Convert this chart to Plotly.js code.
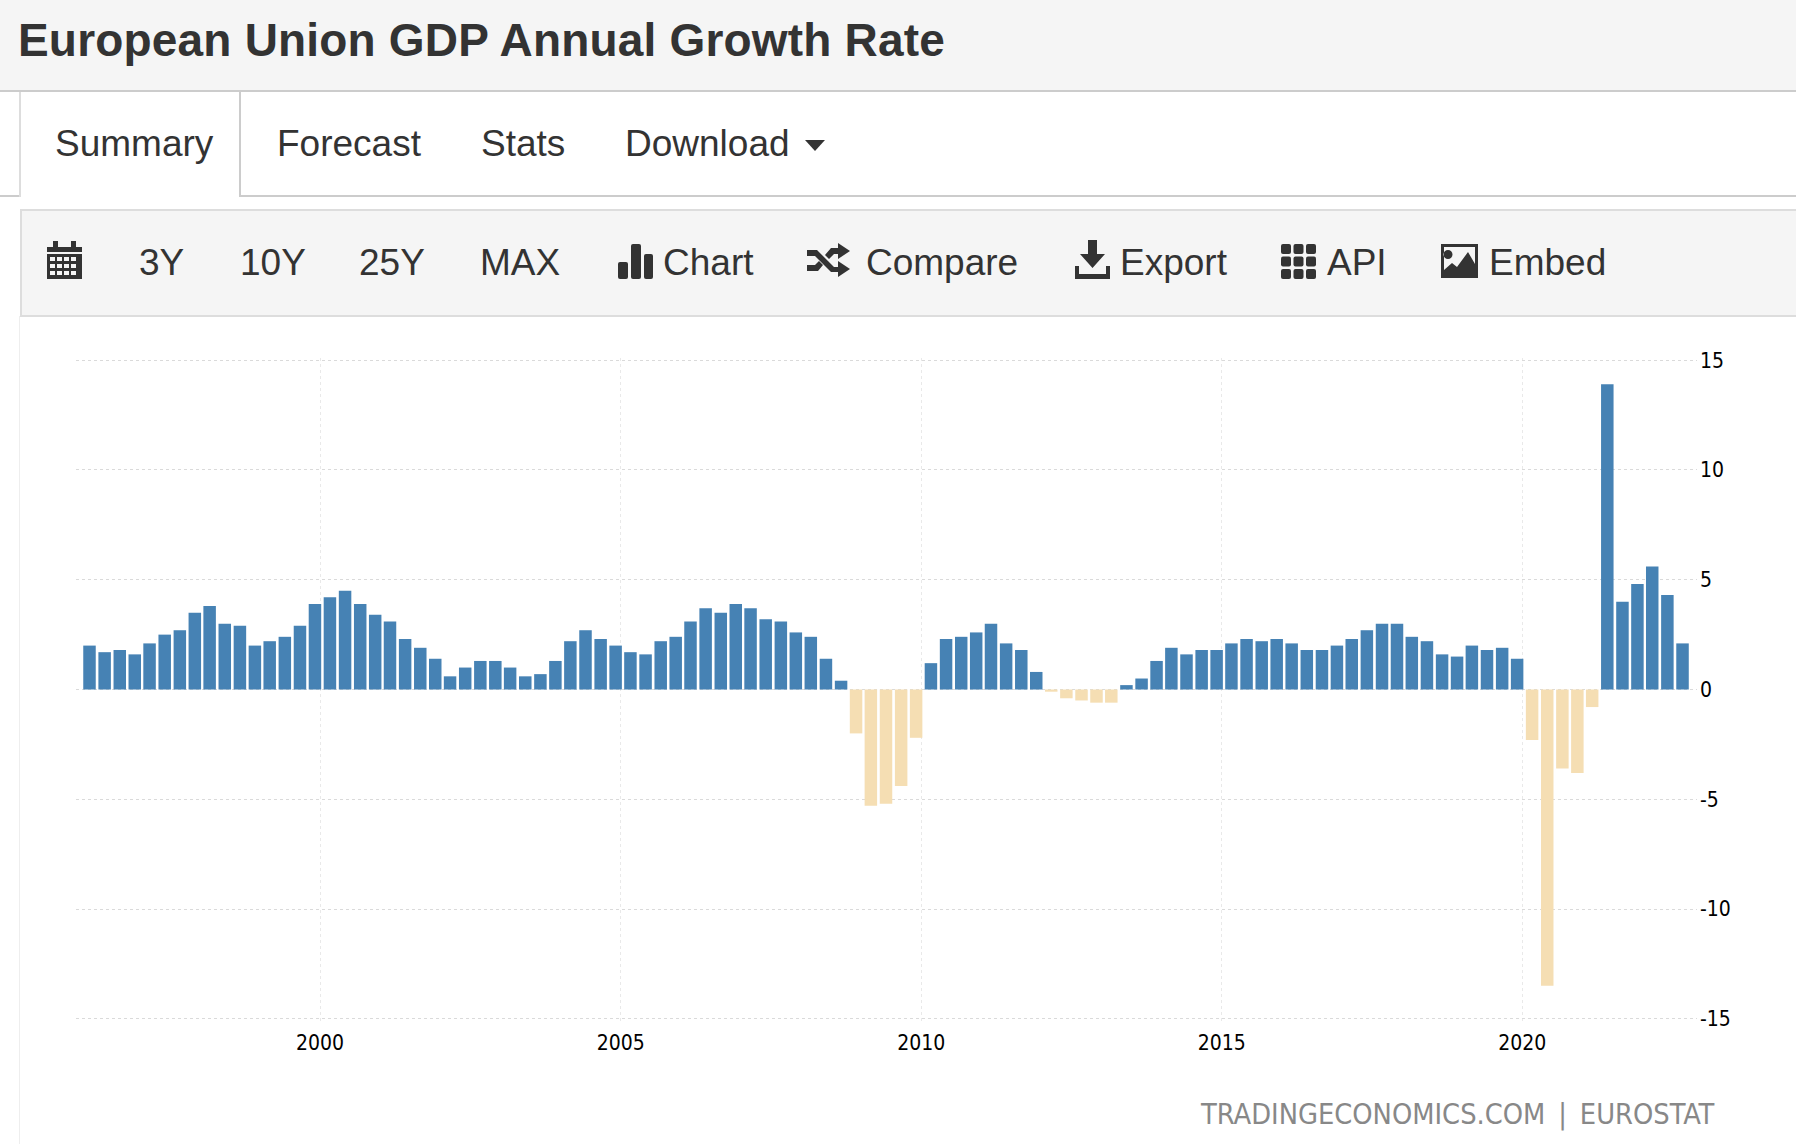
<!DOCTYPE html>
<html>
<head>
<meta charset="utf-8">
<title>European Union GDP Annual Growth Rate</title>
<script src="https://cdn.plot.ly/plotly-3.0.1.min.js"></script>
<style>
  html, body { margin: 0; padding: 0; background: #fff; }
  body { width: 1796px; height: 1144px; position: relative; overflow: hidden; font-family: "Liberation Sans", Arial, sans-serif; color: #333; }
  #header { position: absolute; left: 0; top: 0; width: 1796px; height: 90px; background: #f5f5f5; border-bottom: 2px solid #ccc; }
  #header span { position: absolute; left: 18px; top: 14px; font-size: 46px; line-height: 52px; font-weight: bold; letter-spacing: 0.19px; white-space: nowrap; }
  #tabline { position: absolute; left: 0; top: 195px; width: 1796px; height: 2px; background: #ccc; }
  #activetab { position: absolute; left: 19px; top: 92px; width: 218px; height: 105px; background: #fff; border-left: 2px solid #ddd; border-right: 2px solid #ccc; }
  #toolbar { position: absolute; left: 20px; top: 209px; width: 1776px; height: 104px; background: #f5f5f5; border: 2px solid #ddd; border-right: none; }
  #sideline { position: absolute; left: 19px; top: 316px; width: 1px; height: 828px; background: #eee; }
  .item { position: absolute; font-size: 37px; line-height: 44px; white-space: nowrap; }
  .nav { top: 122px; }
  .tool { top: 241px; }
  svg.icon { position: absolute; fill: #333; }
  #chart { position: absolute; left: 0; top: 320px; width: 1796px; height: 824px; }
</style>
</head>
<body>
<div id="header"><span>European Union GDP Annual Growth Rate</span></div>
<div id="tabline"></div>
<div id="activetab"></div>
<div class="item nav" style="left:55px">Summary</div>
<div class="item nav" style="left:277px">Forecast</div>
<div class="item nav" style="left:481px">Stats</div>
<div class="item nav" style="left:625px">Download</div>
<svg class="icon" style="left:805px;top:140px" width="20" height="11" viewBox="0 0 20 11"><path d="M0 0H20L10 11Z"/></svg>

<div id="toolbar"></div>
<div id="sideline"></div>
<svg class="icon" style="left:47px;top:240px" width="35" height="39" viewBox="0 0 35 39"><path d="M0 7H6V1H11V7H24V1H29V7H35V12H0ZM0 14H35V39H0ZM3 17V21H8V17ZM10 17V21H15V17ZM17 17V21H22V17ZM24 17V21H29V17ZM3 24V28H8V24ZM10 24V28H15V24ZM17 24V28H22V24ZM24 24V28H29V24ZM3 31V35H8V31ZM10 31V35H15V31ZM17 31V35H22V31ZM24 31V35H29V31Z" fill-rule="evenodd"/></svg>
<div class="item tool" style="left:139px">3Y</div>
<div class="item tool" style="left:240px">10Y</div>
<div class="item tool" style="left:359px">25Y</div>
<div class="item tool" style="left:480px">MAX</div>
<svg class="icon" style="left:618px;top:244px" width="35" height="35" viewBox="0 0 35 35"><rect x="0" y="18" width="10" height="17" rx="2"/><rect x="13" y="0" width="10" height="35" rx="2"/><rect x="26" y="10" width="9" height="25" rx="2"/></svg>
<div class="item tool" style="left:663px">Chart</div>
<svg class="icon" style="left:807px;top:243px" width="43" height="34" viewBox="0 0 43 34"><path d="M0 7H10L27 24H31V18L43 26L31 34V29H24L8 13H0ZM31 0L43 8L31 16V11H27L22 16L18 12L24 5H31ZM0 22H8L12 18L16 22L11 28H0Z"/></svg>
<div class="item tool" style="left:866px">Compare</div>
<svg class="icon" style="left:1075px;top:240px" width="35" height="39" viewBox="0 0 35 39"><path d="M13 0H22V14H30L17.5 28L5 14H13ZM0 26H4V34H31V26H35V39H0Z"/></svg>
<div class="item tool" style="left:1120px">Export</div>
<svg class="icon" style="left:1281px;top:244px" width="35" height="35" viewBox="0 0 35 35"><rect x="0" y="0" width="10" height="10" rx="2"/><rect x="12.5" y="0" width="10" height="10" rx="2"/><rect x="25" y="0" width="10" height="10" rx="2"/><rect x="0" y="12.5" width="10" height="10" rx="2"/><rect x="12.5" y="12.5" width="10" height="10" rx="2"/><rect x="25" y="12.5" width="10" height="10" rx="2"/><rect x="0" y="25" width="10" height="10" rx="2"/><rect x="12.5" y="25" width="10" height="10" rx="2"/><rect x="25" y="25" width="10" height="10" rx="2"/></svg>
<div class="item tool" style="left:1327px">API</div>
<svg class="icon" style="left:1441px;top:244px" width="37" height="34" viewBox="0 0 37 34"><path fill-rule="evenodd" d="M0 0H37V34H0ZM3 3V26L11 19L16 23L27 8L34 20V3ZM7 6A4.5 4.5 0 1 0 7 15A4.5 4.5 0 1 0 7 6Z"/></svg>
<div class="item tool" style="left:1489px">Embed</div>

<div id="chart"></div>

<script>
const QUARTERS = [
  "1996-03-01", "1996-06-01", "1996-09-01", "1996-12-01",
  "1997-03-01", "1997-06-01", "1997-09-01", "1997-12-01",
  "1998-03-01", "1998-06-01", "1998-09-01", "1998-12-01",
  "1999-03-01", "1999-06-01", "1999-09-01", "1999-12-01",
  "2000-03-01", "2000-06-01", "2000-09-01", "2000-12-01",
  "2001-03-01", "2001-06-01", "2001-09-01", "2001-12-01",
  "2002-03-01", "2002-06-01", "2002-09-01", "2002-12-01",
  "2003-03-01", "2003-06-01", "2003-09-01", "2003-12-01",
  "2004-03-01", "2004-06-01", "2004-09-01", "2004-12-01",
  "2005-03-01", "2005-06-01", "2005-09-01", "2005-12-01",
  "2006-03-01", "2006-06-01", "2006-09-01", "2006-12-01",
  "2007-03-01", "2007-06-01", "2007-09-01", "2007-12-01",
  "2008-03-01", "2008-06-01", "2008-09-01", "2008-12-01",
  "2009-03-01", "2009-06-01", "2009-09-01", "2009-12-01",
  "2010-03-01", "2010-06-01", "2010-09-01", "2010-12-01",
  "2011-03-01", "2011-06-01", "2011-09-01", "2011-12-01",
  "2012-03-01", "2012-06-01", "2012-09-01", "2012-12-01",
  "2013-03-01", "2013-06-01", "2013-09-01", "2013-12-01",
  "2014-03-01", "2014-06-01", "2014-09-01", "2014-12-01",
  "2015-03-01", "2015-06-01", "2015-09-01", "2015-12-01",
  "2016-03-01", "2016-06-01", "2016-09-01", "2016-12-01",
  "2017-03-01", "2017-06-01", "2017-09-01", "2017-12-01",
  "2018-03-01", "2018-06-01", "2018-09-01", "2018-12-01",
  "2019-03-01", "2019-06-01", "2019-09-01", "2019-12-01",
  "2020-03-01", "2020-06-01", "2020-09-01", "2020-12-01",
  "2021-03-01", "2021-06-01", "2021-09-01", "2021-12-01",
  "2022-03-01", "2022-06-01", "2022-09-01",
];

// Annual growth rate, one value per quarter
const GROWTH = [
  2.0, 1.7, 1.8, 1.6,
  2.1, 2.5, 2.7, 3.5,
  3.8, 3.0, 2.9, 2.0,
  2.2, 2.4, 2.9, 3.9,
  4.2, 4.5, 3.9, 3.4,
  3.1, 2.3, 1.9, 1.4,
  0.6, 1.0, 1.3, 1.3,
  1.0, 0.6, 0.7, 1.3,
  2.2, 2.7, 2.3, 2.0,
  1.7, 1.6, 2.2, 2.4,
  3.1, 3.7, 3.5, 3.9,
  3.7, 3.2, 3.1, 2.6,
  2.4, 1.4, 0.4, -2.0,
  -5.3, -5.2, -4.4, -2.2,
  1.2, 2.3, 2.4, 2.6,
  3.0, 2.1, 1.8, 0.8,
  -0.1, -0.4, -0.5, -0.6,
  -0.6, 0.2, 0.5, 1.3,
  1.9, 1.6, 1.8, 1.8,
  2.1, 2.3, 2.2, 2.3,
  2.1, 1.8, 1.8, 2.0,
  2.3, 2.7, 3.0, 3.0,
  2.4, 2.2, 1.6, 1.5,
  2.0, 1.8, 1.9, 1.4,
  -2.3, -13.5, -3.6, -3.8,
  -0.8, 13.9, 4.0, 4.8,
  5.6, 4.3, 2.1,
];

const Y_TICKS = [-15, -10, -5, 0, 5, 10, 15];

const POSITIVE_COLOR = "#4682b4";
const NEGATIVE_COLOR = "#f5deb3";
const TICK_FONT = { family: '"DejaVu Sans Condensed", "DejaVu Sans", sans-serif', size: 21, color: "#000" };

Plotly.newPlot(
  "chart",
  [
    {
      type: "bar",
      x: QUARTERS,
      y: GROWTH,
      width: 6.56e9, // ms, about 76 days
      marker: {
        color: GROWTH.map((v) => (v < 0 ? NEGATIVE_COLOR : POSITIVE_COLOR)),
        line: { width: 0 },
      },
      hovertemplate: "%{x|%b %Y}: %{y}%<extra></extra>",
    },
  ],
  {
    width: 1796,
    height: 824,
    margin: { l: 76, r: 99, t: 38, b: 123.4 },
    paper_bgcolor: "rgba(0,0,0,0)",
    plot_bgcolor: "rgba(0,0,0,0)",
    showlegend: false,
    xaxis: {
      type: "date",
      range: ["1995-12-10", "2022-11-28"],
      tick0: "2000-01-01",
      dtick: "M60",
      tickformat: "%Y",
      ticks: "",
      ticklabelstandoff: 7,
      showline: false,
      zeroline: false,
      gridcolor: "#e9e9e9",
      griddash: "dot",
      gridwidth: 1,
      tickfont: TICK_FONT,
      fixedrange: true,
    },
    yaxis: {
      side: "right",
      // a touch past +-15 so plotly keeps the gridlines at both ends
      range: [-15.1, 15.1],
      tickmode: "array",
      tickvals: Y_TICKS,
      ticktext: Y_TICKS.map(String),
      ticks: "",
      ticklabelstandoff: 2,
      showline: false,
      zeroline: false,
      gridcolor: "#dadada",
      griddash: "dot",
      gridwidth: 1,
      tickfont: TICK_FONT,
      fixedrange: true,
    },
    annotations: [
      {
        text: "TRADINGECONOMICS.COM\u2002|\u2002EUROSTAT",
        xref: "paper",
        yref: "paper",
        x: 1.0125,
        y: -0.14,
        xanchor: "right",
        yanchor: "middle",
        showarrow: false,
        font: { family: '"DejaVu Sans Condensed", "DejaVu Sans", sans-serif', size: 28.7, color: "#888" },
      },
    ],
  },
  { displayModeBar: false, responsive: false }
);
</script>
</body>
</html>
